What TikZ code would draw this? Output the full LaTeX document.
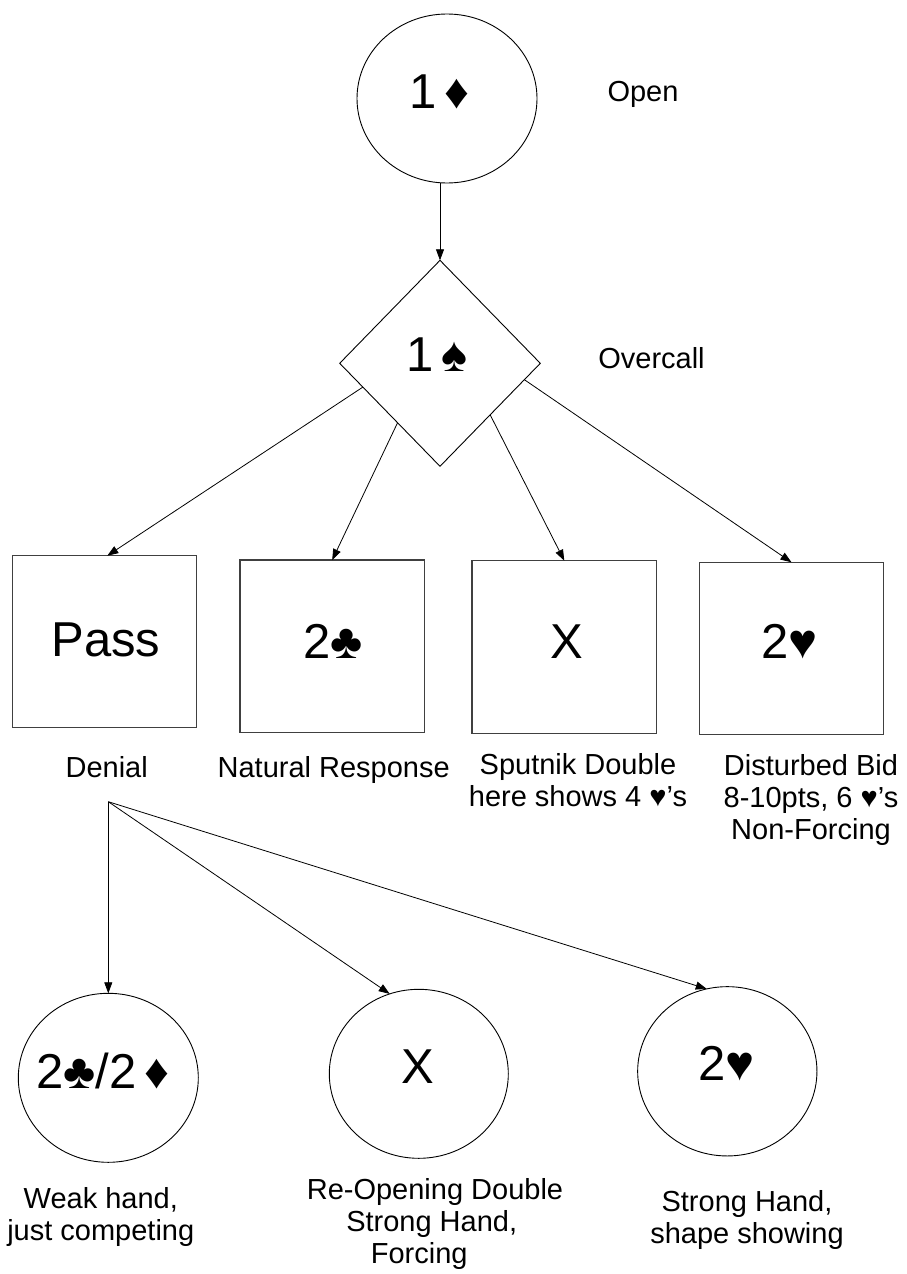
\documentclass[tikz,border=0pt]{standalone}
\usepackage{fontspec}
\setmainfont{Liberation Sans}
\usetikzlibrary{shapes.geometric,arrows.meta,calc}

\begin{document}
\begin{tikzpicture}[x=1pt,y=-1pt,
  shape line/.style={draw=black,line width=0.9pt,inner sep=0pt,outer sep=0pt},
  bid ellipse/.style={shape line,ellipse},
  bid box/.style={draw=black!75,line width=1.2pt,rectangle,inner sep=0pt,outer sep=0pt},
  bid diamond/.style={shape line,diamond},
  bid text/.style={anchor=base,inner sep=0pt,font=\fontsize{49}{56}\selectfont},
  note/.style={anchor=base,inner sep=0pt,align=center,font=\fontsize{29}{32}\selectfont},
  link/.style={draw=black,line width=0.8pt,-{Triangle[length=11pt,width=8pt]}}
]
\fill[white] (0,0) rectangle (906,1274);
\useasboundingbox (0,0) rectangle (906,1274);

% opening bid and overcall
\node[bid ellipse,minimum width=180pt,minimum height=169pt] (open) at (447,98.5) {};
\node[bid text] (openbid) at (439.4,108) {1\kern8pt♦};
\node[bid diamond,minimum width=200.6pt,minimum height=206pt] (dia) at (440,363.3) {};
\node[bid text] (overbid) at (437.3,371.7) {1\kern8pt♠};

% responses
\node[bid box,minimum width=184.4pt,minimum height=172pt] (pass) at (104.5,641.7) {};
\node[bid box,minimum width=184.3pt,minimum height=172.3pt] (b2) at (332.2,646.2) {};
\node[bid box,minimum width=184.7pt,minimum height=172.6pt] (b3) at (564.3,647) {};
\node[bid box,minimum width=184.4pt,minimum height=172pt] (b4) at (791.5,648.3) {};
\node[bid text] (passbid) at (105.8,656.7) {Pass};
\node[bid text] (clubbid) at (333,658) {2♣};
\node[bid text] (dblbid) at (567.3,658) {X};
\node[bid text] (heartbid) at (789.5,658) {2♥};

% rebids after the pass
\node[bid ellipse,minimum width=180pt,minimum height=169pt] (c1) at (108.3,1077.8) {};
\node[bid ellipse,minimum width=179pt,minimum height=169pt] (c2) at (418.8,1073.8) {};
\node[bid ellipse,minimum width=179.3pt,minimum height=169.3pt] (c3) at (727.3,1071.3) {};
\node[bid text] (minorbid) at (102.7,1088.3) {2♣/2\kern8pt♦};
\node[bid text] (reopenbid) at (417.8,1083.3) {X};
\node[bid text] (majorbid) at (726.8,1080) {2♥};

% explanations (multi-line notes sit on the baseline of their last line)
\node[note] (openlbl) at (643,101.7) {Open};
\node[note] (overlbl) at (651.5,368.3) {Overcall};
\node[note] (denial) at (106.7,777.7) {Denial};
\node[note] (natural) at (333.7,777.7) {Natural Response};
\node[note] (sputnik) at (578,806.7) {Sputnik Double\\here shows 4 ♥’s};
\node[note] (disturbed) at (811,839) {Disturbed Bid\\8-10pts, 6 ♥’s\\Non-Forcing};
\node[note] (weak) at (100.8,1240) {Weak hand,\\just competing};
\node[note] (reopen) at (435,1263.3) {Re-Opening Double\\Strong Hand,\kern6.6pt\\Forcing\kern31.6pt};
\node[note] (strong) at (747,1243.3) {Strong Hand,\\shape showing};

% connectors
\draw[link] (open.south -| dia.north) -- (dia.north);
\draw[link] ($(dia.west)!0.231!(dia.south)$) -- ($(pass.north)+(2.8,0)$);
\draw[link] ($(dia.west)!0.577!(dia.south)$) -- (b2.north);
\draw[link] ($(dia.east)!0.50!(dia.south)$) -- (b3.north);
\draw[link] ($(dia.east)!0.159!(dia.south)$) -- (b4.north);

\coordinate (fork) at (108.3,801.7);
\draw[link] (fork) -- (c1.north);
\draw[link] (fork) -- (c2.110);
\draw[link] (fork) -- (c3.104);
\end{tikzpicture}
\end{document}
